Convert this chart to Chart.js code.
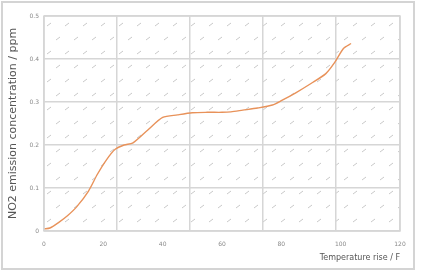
<!DOCTYPE html>
<html>
<head>
<meta charset="utf-8">
<script src="https://cdn.jsdelivr.net/npm/chart.js@4/dist/chart.umd.min.js"></script>
<style>
  html, body { margin: 0; padding: 0; background: #fff; }
  #wrap { position: relative; width: 422px; height: 271px; }
  #frame { position: absolute; left: 1px; top: 1px; width: 410px; height: 265px; border: 2px solid #d4d4d4; }
  canvas { position: absolute; left: 0; top: 0; }
</style>
</head>
<body>
<div id="wrap">
  <div id="frame"></div>
  <canvas id="chart" width="422" height="271"></canvas>
</div>
<script>
// temperature rise (F) vs NO2 emission (ppm)
const temp_rise = [0, 2, 5, 8, 11, 15, 18, 21, 24, 27, 30, 35, 40, 45, 50, 55, 60, 63, 67, 72, 77, 80, 85, 90, 95, 98, 101, 103.5];
const no2_ppm = [0.005, 0.007, 0.02, 0.036, 0.056, 0.093, 0.132, 0.165, 0.19, 0.2, 0.205, 0.235, 0.264, 0.27, 0.275, 0.276, 0.276, 0.277, 0.281, 0.286, 0.293, 0.303, 0.322, 0.343, 0.366, 0.392, 0.425, 0.436];

const x_ticks = [0, 20, 40, 60, 80, 100, 120];
const y_ticks = [0, 0.1, 0.2, 0.3, 0.4, 0.5];

const gridColor = '#d6d6d6';
const tickColor = '#8a8a8a';

// hatch background like the original chart area
function makeHatch() {
    const c = document.createElement('canvas');
    c.width = 18; c.height = 28;
    const g = c.getContext('2d');
    g.strokeStyle = '#c8c8c8';
    g.lineWidth = 1;
    g.beginPath();
    g.moveTo(3, 10); g.lineTo(7, 7);
    g.moveTo(12, 24); g.lineTo(16, 21);
    g.stroke();
    return c;
}

const hatchPlugin = {
    id: 'hatch',
    beforeDraw(chart) {
        const { ctx, chartArea: a } = chart;
        ctx.save();
        const pat = ctx.createPattern(makeHatch(), 'repeat');
        ctx.fillStyle = pat;
        ctx.translate(a.left, a.top);
        ctx.fillRect(0, 0, a.right - a.left, a.bottom - a.top);
        ctx.restore();
    },
    afterDraw(chart) {
        const { ctx, chartArea: a } = chart;
        ctx.save();
        ctx.strokeStyle = gridColor;
        ctx.lineWidth = 1.5;
        ctx.strokeRect(a.left, a.top, a.right - a.left, a.bottom - a.top);
        ctx.restore();
    }
};

new Chart(document.getElementById('chart'), {
    type: 'line',
    data: {
        datasets: [{
            data: temp_rise.map((t, i) => ({ x: t, y: no2_ppm[i] })),
            borderColor: '#e8925a',
            borderWidth: 1.4,
            pointRadius: 0,
            fill: false,
            tension: 0.25
        }]
    },
    options: {
        responsive: false,
        animation: false,
        layout: { padding: { left: 3, right: 22, top: 16, bottom: 4 } },
        plugins: { legend: { display: false }, tooltip: { enabled: false } },
        scales: {
            x: {
                type: 'linear',
                min: 0, max: 120,
                afterBuildTicks: s => { s.ticks = x_ticks.map(v => ({ value: v })); },
                ticks: { color: tickColor, font: { family: 'DejaVu Sans', size: 6 }, maxRotation: 0, padding: 2 },
                grid: { display: false },
                border: { display: false },
                title: {
                    display: true, text: 'Temperature rise / F', align: 'end',
                    color: '#555', font: { family: 'DejaVu Sans', size: 8 }, padding: { top: 8 }
                },
                afterFit: s => { s.height = 36; }
            },
            xg: {
                type: 'linear',
                position: 'bottom',
                min: 0, max: 4.88,
                ticks: { display: false, stepSize: 1 },
                grid: { color: gridColor, lineWidth: 1.5, drawTicks: false },
                border: { display: false },
                afterFit: s => { s.height = 0; }
            },
            y: {
                min: 0, max: 0.5,
                afterBuildTicks: s => { s.ticks = y_ticks.map(v => ({ value: v })); },
                ticks: { color: tickColor, font: { family: 'DejaVu Sans', size: 6 }, padding: 5 },
                grid: { color: gridColor, lineWidth: 1.5, drawTicks: false },
                border: { display: false },
                title: {
                    display: true, text: 'NO2 emission concentration / ppm',
                    color: '#555', font: { family: 'DejaVu Sans', size: 11 }, padding: { bottom: 4 }
                },
                afterFit: s => { s.width = 41; }
            }
        }
    },
    plugins: [hatchPlugin]
});
</script>
</body>
</html>
